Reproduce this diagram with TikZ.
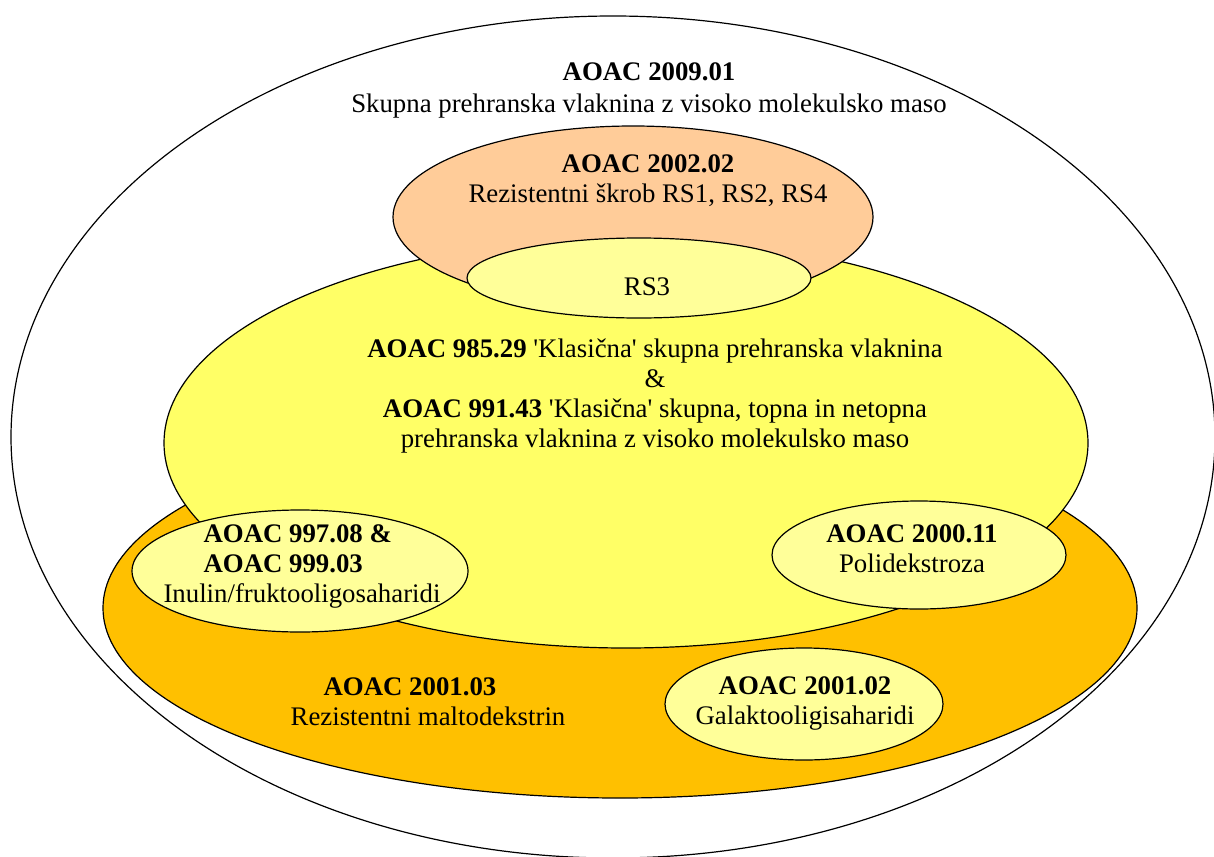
\documentclass[tikz,border=0pt]{standalone}
\usepackage{fontspec}
\setmainfont{Liberation Serif}[Ligatures=TeXOff]
\usetikzlibrary{shapes.geometric}
\usepackage{xcolor}
\definecolor{peach}{HTML}{FFCC99}
\definecolor{amber}{HTML}{FFC000}
\definecolor{lemon}{HTML}{FFFF66}
\definecolor{cream}{HTML}{FFFF99}
\definecolor{ink}{HTML}{000000}
\tikzset{
  every node/.style={font=\fontsize{13.4pt}{15pt}\selectfont,text=ink},
  blob/.style={ellipse,draw=ink,line width=0.6pt,inner sep=0pt,outer sep=0pt},
  outerblob/.style={blob,fill=white},
  amberblob/.style={blob,fill=amber},
  lemonblob/.style={blob,fill=lemon},
  peachblob/.style={blob,fill=peach},
  creamblob/.style={blob,fill=cream},
  lbl/.style={align=center,inner sep=0pt},
}
\begin{document}
\begin{tikzpicture}[x=0.5pt,y=-0.5pt]
\useasboundingbox (0,0) rectangle (1214,856);
% nested sets
\node[outerblob,minimum width=602pt,minimum height=421pt] (all) at (613,437) {};
\node[amberblob,minimum width=517pt,minimum height=190pt] (malto) at (620,608) {};
\node[lemonblob,minimum width=462pt,minimum height=205pt] (klas) at (626,443) {};
\node[peachblob,minimum width=240pt,minimum height=91pt] (rs) at (633,217) {};
\node[creamblob,minimum width=172pt,minimum height=40pt] (rs3) at (639,278) {};
\node[creamblob,minimum width=168pt,minimum height=61pt] (inulin) at (300,571) {};
\node[creamblob,minimum width=147pt,minimum height=54pt] (poly) at (919,555) {};
\node[creamblob,minimum width=139pt,minimum height=56pt] (galakto) at (804,704) {};
% labels
\node[lbl,font=\fontsize{13.4pt}{16pt}\selectfont] (all-l) at (649,90) {\textbf{AOAC 2009.01}\\Skupna prehranska vlaknina z visoko molekulsko maso};
\node[lbl] (rs-l) at (648,181) {\textbf{AOAC 2002.02}\\Rezistentni škrob RS1, RS2, RS4};
\node[lbl] (rs3-l) at (647,287) {RS3};
\node[lbl] (klas-l) at (655,396) {\textbf{AOAC 985.29} 'Klasična' skupna prehranska vlaknina\\\&\\\textbf{AOAC 991.43} 'Klasična' skupna, topna in netopna\\prehranska vlaknina z visoko molekulsko maso};
\node[lbl] (malto-l) at (428,702) {\textbf{AOAC 2001.03}\hspace*{18pt}\\Rezistentni maltodekstrin};
\node[lbl,align=left] (inulin-l) at (302,566) {\hspace*{20pt}\textbf{AOAC 997.08 \&}\\\hspace*{20pt}\textbf{AOAC 999.03}\\Inulin/fruktooligosaharidi};
\node[lbl] (poly-l) at (912,549) {\textbf{AOAC 2000.11}\\Polidekstroza};
\node[lbl] (galakto-l) at (805,703) {\textbf{AOAC 2001.02}\\Galaktooligisaharidi};
\end{tikzpicture}
\end{document}
